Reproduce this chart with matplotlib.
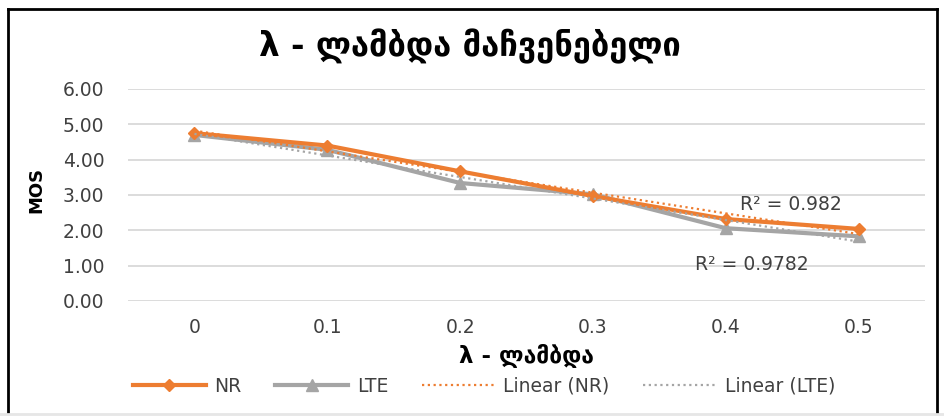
import numpy as np
import matplotlib
matplotlib.use("Agg")
import matplotlib.pyplot as plt
from matplotlib.lines import Line2D

# values
categories = ["0", "0.1", "0.2", "0.3", "0.4", "0.5"]
nr_mos = [4.75, 4.40, 3.67, 2.97, 2.32, 2.04]
lte_mos = [4.70, 4.28, 3.34, 3.02, 2.06, 1.83]
r2_nr = 0.982
r2_lte = 0.9782

title_text = "λ - ლამბდა მაჩვენებელი"
xlabel_text = "λ - ლამბდა"
ylabel_text = "MOS"
legend_labels = ["NR", "LTE", "Linear (NR)", "Linear (LTE)"]

ORANGE = "#ED7D31"
GRAY = "#A5A5A5"
TEXT = "#404040"
DOTTED = (0, (1, 1.6))

plt.rcParams["font.family"] = ["DejaVu Sans"]

fig = plt.figure(figsize=(9.44, 4.17), dpi=100)
# plot area placed where the reference has it (pixels -> figure fraction)
ax = fig.add_axes([128 / 944, 1 - 301 / 417, 797 / 944, 212 / 417])

x = np.arange(len(categories))
ax.plot(x, nr_mos, color=ORANGE, linewidth=3.0, marker="D", markersize=6,
        zorder=3)
ax.plot(x, lte_mos, color=GRAY, linewidth=3.0, marker="^", markersize=9,
        zorder=2)

# linear trendlines (Excel style), fitted on the category index
nr_fit = np.polyfit(x, nr_mos, 1)
lte_fit = np.polyfit(x, lte_mos, 1)
ax.plot(x, np.polyval(nr_fit, x), color=ORANGE, linewidth=1.6,
        linestyle=DOTTED, zorder=4)
ax.plot(x, np.polyval(lte_fit, x), color=GRAY, linewidth=1.6,
        linestyle=DOTTED, zorder=4)

ax.text(4.11, 2.72, f"R² = {r2_nr}", fontsize=13.5, color=TEXT,
        ha="left", va="center")
ax.text(3.77, 1.02, f"R² = {r2_lte}", fontsize=13.5, color=TEXT,
        ha="left", va="center")

ax.set_xlim(-0.5, len(categories) - 0.5)
ax.set_ylim(0, 6)
ax.set_yticks(np.arange(0, 7, 1))
ax.set_yticklabels([f"{v:.2f}" for v in np.arange(0, 7, 1)])
ax.set_xticks(x)
ax.set_xticklabels(categories)
ax.tick_params(length=0, labelsize=13.5, labelcolor=TEXT)
ax.yaxis.set_tick_params(pad=17)
ax.xaxis.set_tick_params(pad=12)
ax.grid(axis="y", color="#D9D9D9", linewidth=1.3)
ax.set_axisbelow(True)
for spine in ax.spines.values():
    spine.set_visible(False)

fig.text(36 / 944, 1 - 190 / 417, ylabel_text, rotation=90, fontsize=13,
         fontweight="bold", color="#000000", ha="center", va="center")
fig.text(526 / 944, 1 - 355 / 417, xlabel_text, fontsize=16.5, fontweight="bold",
         color="#000000", ha="center", va="center")
fig.text(470 / 944, 1 - 46 / 417, title_text, fontsize=23.5, fontweight="bold",
         color="#000000", ha="center", va="center")

handles = [
    Line2D([], [], color=ORANGE, linewidth=3.0, marker="D", markersize=6),
    Line2D([], [], color=GRAY, linewidth=3.0, marker="^", markersize=9),
    Line2D([], [], color=ORANGE, linewidth=1.6, linestyle=DOTTED),
    Line2D([], [], color=GRAY, linewidth=1.6, linestyle=DOTTED),
]
leg = fig.legend(handles, legend_labels, loc="center", ncol=4, frameon=False,
                 bbox_to_anchor=(484 / 944, 1 - 386 / 417), fontsize=13.5,
                 handlelength=3.9, handletextpad=0.45, columnspacing=1.8)
for t in leg.get_texts():
    t.set_color(TEXT)

# outer frame: black on three sides, light gray at the bottom
frame_kw = dict(transform=fig.transFigure, color="black", linewidth=2)
fig.add_artist(Line2D([8 / 944, 8 / 944], [1 - 413 / 417, 1 - 9 / 417], **frame_kw))
fig.add_artist(Line2D([8 / 944, 937 / 944], [1 - 9 / 417, 1 - 9 / 417], **frame_kw))
fig.add_artist(Line2D([937 / 944, 937 / 944], [1 - 413 / 417, 1 - 9 / 417], **frame_kw))
fig.add_artist(Line2D([0, 1], [1 - 414 / 417, 1 - 414 / 417],
                      transform=fig.transFigure, color="#E6E6E6", linewidth=2))

fig.savefig("out.png", dpi=100)
